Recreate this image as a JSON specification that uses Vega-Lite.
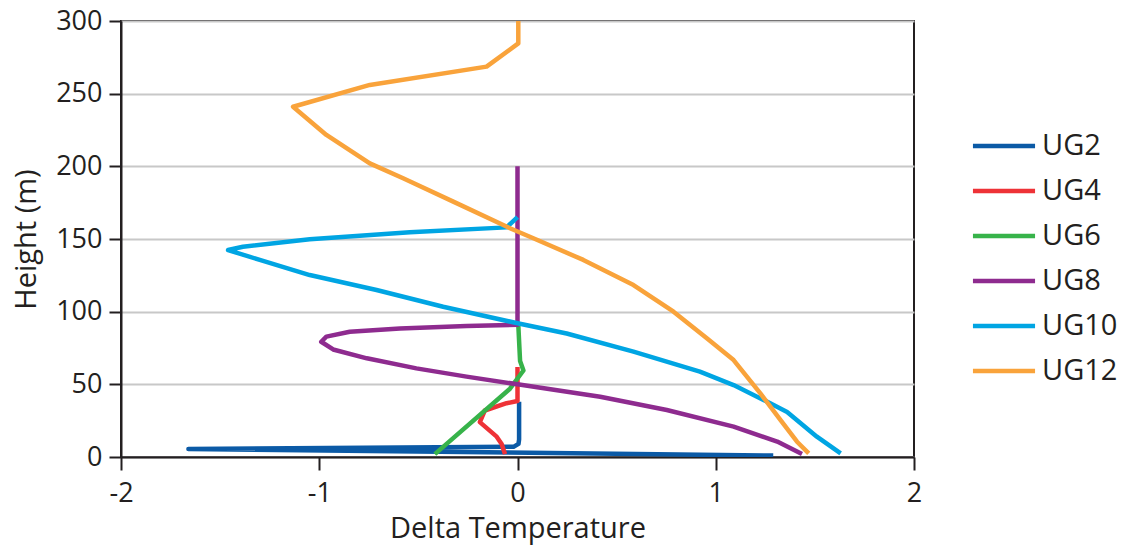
{
  "$schema": "https://vega.github.io/schema/vega-lite/v6.json",
  "width": 793,
  "height": 436,
  "autosize": {"type": "none"},
  "padding": {"left": 121, "top": 21, "right": 212, "bottom": 94},
  "background": "white",
  "config": {
    "font": "Open Sans",
    "view": {"stroke": "#231f20", "strokeWidth": 2},
    "axis": {
      "domainColor": "#231f20",
      "domainWidth": 2,
      "tickColor": "#231f20",
      "tickWidth": 2,
      "labelFont": "Open Sans",
      "labelFontSize": 27,
      "labelColor": "#231f20",
      "labelExpr": "'' + datum.value",
      "labelFlush": false,
      "labelOverlap": false,
      "titleFont": "Open Sans",
      "titleFontSize": 29,
      "titleFontWeight": "normal",
      "titleColor": "#231f20",
      "gridColor": "#c8c8c8",
      "gridWidth": 2
    }
  },
  "data": {
    "values": [
      {"s": "UG2", "h": 1, "t": 1.29},
      {"s": "UG2", "h": 5.5, "t": -1.66},
      {"s": "UG2", "h": 7, "t": -0.02},
      {"s": "UG2", "h": 9, "t": 0.005},
      {"s": "UG2", "h": 12, "t": 0.008},
      {"s": "UG2", "h": 38, "t": 0.008},
      {"s": "UG4", "h": 2, "t": -0.063},
      {"s": "UG4", "h": 9, "t": -0.08},
      {"s": "UG4", "h": 14, "t": -0.105},
      {"s": "UG4", "h": 24, "t": -0.19},
      {"s": "UG4", "h": 32, "t": -0.165},
      {"s": "UG4", "h": 37, "t": -0.055},
      {"s": "UG4", "h": 38.5, "t": 0.0},
      {"s": "UG4", "h": 62, "t": 0.0},
      {"s": "UG6", "h": 2, "t": -0.417},
      {"s": "UG6", "h": 47, "t": -0.038},
      {"s": "UG6", "h": 59.5, "t": 0.03},
      {"s": "UG6", "h": 66, "t": 0.013},
      {"s": "UG6", "h": 91, "t": 0.004},
      {"s": "UG8", "h": 2, "t": 1.435},
      {"s": "UG8", "h": 10.6, "t": 1.31},
      {"s": "UG8", "h": 20.9, "t": 1.09},
      {"s": "UG8", "h": 32.3, "t": 0.753},
      {"s": "UG8", "h": 41.5, "t": 0.417},
      {"s": "UG8", "h": 50, "t": 0.0},
      {"s": "UG8", "h": 55.3, "t": -0.257},
      {"s": "UG8", "h": 61, "t": -0.51},
      {"s": "UG8", "h": 67.9, "t": -0.76},
      {"s": "UG8", "h": 74, "t": -0.93},
      {"s": "UG8", "h": 79.3, "t": -0.99},
      {"s": "UG8", "h": 82.8, "t": -0.964},
      {"s": "UG8", "h": 86.2, "t": -0.846},
      {"s": "UG8", "h": 88.5, "t": -0.593},
      {"s": "UG8", "h": 90.1, "t": -0.257},
      {"s": "UG8", "h": 91, "t": 0.0},
      {"s": "UG8", "h": 200, "t": 0.0},
      {"s": "UG10", "h": 2.5, "t": 1.63},
      {"s": "UG10", "h": 14, "t": 1.51},
      {"s": "UG10", "h": 31, "t": 1.36},
      {"s": "UG10", "h": 38, "t": 1.26},
      {"s": "UG10", "h": 49.5, "t": 1.09},
      {"s": "UG10", "h": 58.7, "t": 0.92},
      {"s": "UG10", "h": 72.5, "t": 0.585},
      {"s": "UG10", "h": 85, "t": 0.248},
      {"s": "UG10", "h": 92, "t": 0.0},
      {"s": "UG10", "h": 103.4, "t": -0.375},
      {"s": "UG10", "h": 114.9, "t": -0.711},
      {"s": "UG10", "h": 125.2, "t": -1.048},
      {"s": "UG10", "h": 135.6, "t": -1.3},
      {"s": "UG10", "h": 142.4, "t": -1.46},
      {"s": "UG10", "h": 144.7, "t": -1.385},
      {"s": "UG10", "h": 149.8, "t": -1.048},
      {"s": "UG10", "h": 154.6, "t": -0.543},
      {"s": "UG10", "h": 158, "t": -0.055},
      {"s": "UG10", "h": 165, "t": 0.0},
      {"s": "UG12", "h": 2.5, "t": 1.469},
      {"s": "UG12", "h": 10.5, "t": 1.41},
      {"s": "UG12", "h": 25.5, "t": 1.326},
      {"s": "UG12", "h": 43.8, "t": 1.225},
      {"s": "UG12", "h": 66.7, "t": 1.09},
      {"s": "UG12", "h": 81.7, "t": 0.955},
      {"s": "UG12", "h": 100, "t": 0.787},
      {"s": "UG12", "h": 118.3, "t": 0.585},
      {"s": "UG12", "h": 135.6, "t": 0.332},
      {"s": "UG12", "h": 150.5, "t": 0.08},
      {"s": "UG12", "h": 157.4, "t": -0.038},
      {"s": "UG12", "h": 159.6, "t": -0.072},
      {"s": "UG12", "h": 175.7, "t": -0.324},
      {"s": "UG12", "h": 191.8, "t": -0.577},
      {"s": "UG12", "h": 202, "t": -0.745},
      {"s": "UG12", "h": 221.6, "t": -0.964},
      {"s": "UG12", "h": 241, "t": -1.132},
      {"s": "UG12", "h": 256, "t": -0.745},
      {"s": "UG12", "h": 268.6, "t": -0.156},
      {"s": "UG12", "h": 284.6, "t": 0.004},
      {"s": "UG12", "h": 300, "t": 0.004}
    ]
  },
  "mark": {"type": "line", "strokeWidth": 4.5, "strokeJoin": "round", "clip": true},
  "encoding": {
    "x": {
      "field": "t",
      "type": "quantitative",
      "scale": {"domain": [-2, 2], "nice": false, "zero": false},
      "axis": {
        "title": "Delta Temperature",
        "values": [-2, -1, 0, 1, 2],
        "grid": false,
        "tickSize": 13,
        "labelPadding": 10,
        "titlePadding": 8
      }
    },
    "y": {
      "field": "h",
      "type": "quantitative",
      "scale": {"domain": [0, 300], "nice": false},
      "axis": {
        "title": "Height (m)",
        "values": [0, 50, 100, 150, 200, 250, 300],
        "grid": true,
        "tickSize": 12,
        "labelPadding": 7,
        "titlePadding": 14
      }
    },
    "order": {"field": "h", "type": "quantitative"},
    "color": {
      "field": "s",
      "type": "nominal",
      "scale": {
        "domain": ["UG2", "UG4", "UG6", "UG8", "UG10", "UG12"],
        "range": ["#0b5aa6", "#ee3237", "#37b34a", "#8e2b8f", "#00a5e3", "#f9a33b"]
      },
      "legend": {
        "title": null,
        "orient": "none",
        "legendX": 858,
        "legendY": 100,
        "padding": 0,
        "symbolType": "M-1.38,0H1.38",
        "symbolSize": 2025,
        "symbolStrokeWidth": 4.5,
        "labelFontSize": 29,
        "labelFont": "Open Sans",
        "labelColor": "#231f20",
        "labelOffset": 13,
        "rowPadding": 5
      }
    }
  }
}
